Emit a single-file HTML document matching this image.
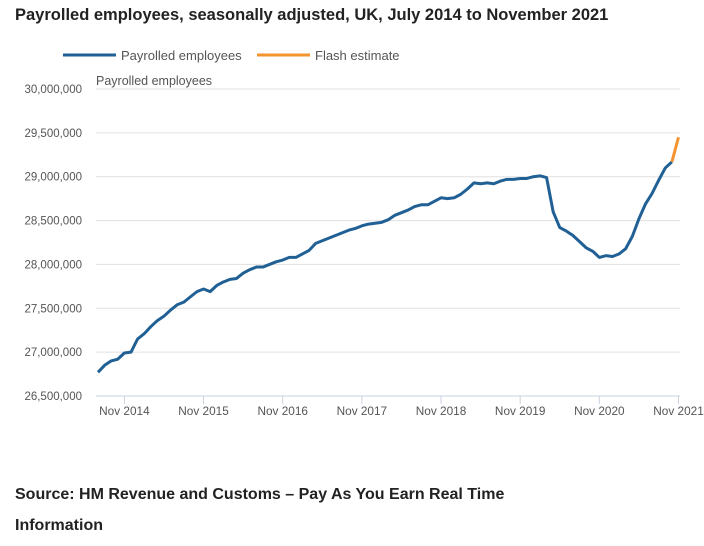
<!DOCTYPE html>
<html><head><meta charset="utf-8"><style>
body{margin:0;background:#fff;width:704px;height:546px;overflow:hidden;font-family:"Liberation Sans",sans-serif}
.t{position:absolute;left:15px;top:6px;font-size:16.5px;font-weight:bold;color:#222}
.s{position:absolute;left:15px;font-size:16px;font-weight:bold;color:#222}
</style></head><body>
<div class="t">Payrolled employees, seasonally adjusted, UK, July 2014 to November 2021</div>
<svg id="c" width="704" height="460" style="position:absolute;left:0;top:0">
<g>
<line x1="63" y1="55" x2="116" y2="55" stroke="#206095" stroke-width="3"/>
<text x="121" y="60" font-size="13" fill="#555">Payrolled employees</text>
<line x1="257" y1="55" x2="310" y2="55" stroke="#f39431" stroke-width="3"/>
<text x="315" y="60" font-size="13" fill="#555">Flash estimate</text>
</g>
<text x="96" y="85" font-size="12.5" fill="#555">Payrolled employees</text>
</svg>
<div class="s" style="top:486px">Source: HM Revenue and Customs – Pay As You Earn Real Time</div>
<div class="s" style="top:517px">Information</div>
<script>
const values=[26.77,26.85,26.90,26.92,26.99,27.00,27.15,27.21,27.29,27.36,27.41,27.48,27.54,27.57,27.63,27.69,27.72,27.69,27.76,27.80,27.83,27.84,27.90,27.94,27.97,27.97,28.00,28.03,28.05,28.08,28.08,28.12,28.16,28.24,28.27,28.30,28.33,28.36,28.39,28.41,28.44,28.46,28.47,28.48,28.51,28.56,28.59,28.62,28.66,28.68,28.68,28.72,28.76,28.75,28.76,28.80,28.86,28.93,28.92,28.93,28.92,28.95,28.97,28.97,28.98,28.98,29.00,29.01,28.99,28.60,28.42,28.38,28.33,28.26,28.19,28.15,28.08,28.10,28.09,28.12,28.18,28.32,28.52,28.69,28.81,28.96,29.10,29.17];
const flash=[29.17,29.45];
const yTicks=[26.5,27.0,27.5,28.0,28.5,29.0,29.5,30.0];
const yTickLabels=["26,500,000","27,000,000","27,500,000","28,000,000","28,500,000","29,000,000","29,500,000","30,000,000"];
const xTickIdx=[4,16,28,40,52,64,76,88];
const xTickLabels=["Nov 2014","Nov 2015","Nov 2016","Nov 2017","Nov 2018","Nov 2019","Nov 2020","Nov 2021"];
const svg=document.getElementById('c');const NS='http://www.w3.org/2000/svg';
const X0=98,DX=(678.5-98)/88,Y0=396,YS=(396-89)/3.5;
const x=i=>X0+i*DX, y=v=>Y0-(v-26.5)*YS;
function mk(t,a){const e=document.createElementNS(NS,t);for(const k in a)e.setAttribute(k,a[k]);svg.appendChild(e);return e;}
yTicks.forEach((v,i)=>{
 if(i>0){const g=mk('line',{x1:96,x2:680,y1:y(v),y2:y(v),stroke:'#e0e0e0','stroke-width':1});
 
 }
 const t=mk('text',{x:82,y:y(v)+4,'text-anchor':'end','font-size':11.5,fill:'#555'});t.textContent=yTickLabels[i];
 
 
});
const ax=mk('line',{x1:96,x2:680,y1:396,y2:396,stroke:'#c8d3e0','stroke-width':1});


xTickIdx.forEach((idx,i)=>{
 const tk=mk('line',{x1:x(idx),x2:x(idx),y1:396,y2:404,stroke:'#c8d3e0'});
 
 
 const t=mk('text',{x:x(idx),y:415,'text-anchor':'middle','font-size':11.8,fill:'#555'});t.textContent=xTickLabels[i];
 
 
});
const p=mk('polyline',{points:values.map((v,i)=>x(i)+','+y(v)).join(' '),fill:'none',stroke:'#206095','stroke-width':3,'stroke-linejoin':'round'});


const f=mk('polyline',{points:flash.map((v,i)=>x(values.length-1+i)+','+y(v)).join(' '),fill:'none',stroke:'#f39431','stroke-width':3});


</script>
</body></html>
